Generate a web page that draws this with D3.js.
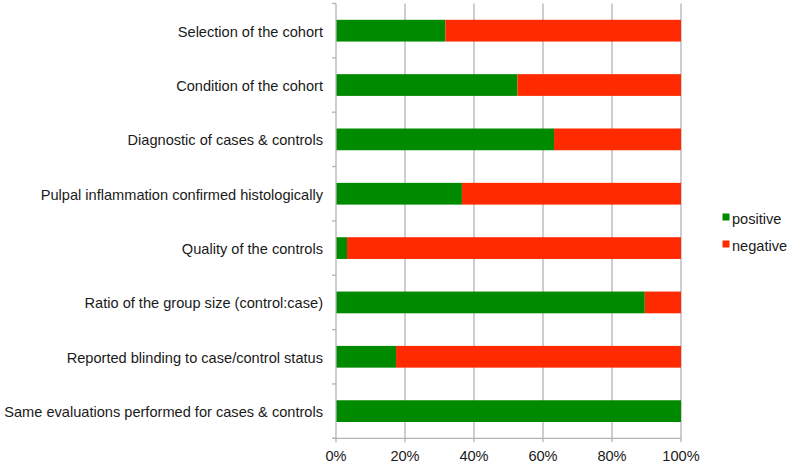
<!DOCTYPE html>
<html><head><meta charset="utf-8">
<script src="https://cdn.jsdelivr.net/npm/d3@7"></script>
<style>body{margin:0;background:#fff}svg{display:block}text{font-family:"Liberation Sans",Arial,sans-serif}</style>
</head><body><svg id="c" width="791" height="466"></svg>
<script>
const categories = [
  "Selection of the cohort",
  "Condition of the cohort",
  "Diagnostic of cases & controls",
  "Pulpal inflammation confirmed histologically",
  "Quality of the controls",
  "Ratio of the group size (control:case)",
  "Reported blinding to case/control status",
  "Same evaluations performed for cases & controls"
];
const positive = [31.7, 52.6, 63.2, 36.5, 3.2, 89.5, 17.4, 100];
const negative = positive.map(v => 100 - v);
const seriesNames = ["positive", "negative"];
const seriesColors = ["#008a00", "#ff2a00"];
const xTicks = [0, 20, 40, 60, 80, 100];

const svg = d3.select("#c");
const L = 336, R = 681, T = 3.5, B = 438.3;
const FS = 14.6;
const x = d3.scaleLinear().domain([0, 100]).range([L, R]);
const y = d3.scaleBand().domain(categories).range([T, B]).paddingInner(0.6).paddingOuter(0.3);
const yb = d3.scaleBand().domain(categories).range([T, B]);
const gridC = "#b3b3b3";

// gridlines
svg.append("g").selectAll("line").data(xTicks.slice(1)).join("line")
  .attr("x1", d => x(d)).attr("x2", d => x(d)).attr("y1", T).attr("y2", B + 4)
  .attr("stroke", gridC).attr("stroke-width", 1.3);

// stacked bars
const rows = categories.map((c, i) => ({c, p: positive[i], n: negative[i]}));
const stack = d3.stack().keys(["p", "n"])(rows);
svg.append("g").selectAll("g").data(stack).join("g")
  .attr("fill", (d, i) => seriesColors[i])
  .selectAll("rect").data(d => d).join("rect")
  .attr("x", d => x(d[0])).attr("width", d => x(d[1]) - x(d[0]))
  .attr("y", d => y(d.data.c)).attr("height", y.bandwidth());

// left axis
const ax = svg.append("g");
ax.append("line").attr("x1", L).attr("x2", L).attr("y1", T).attr("y2", B).attr("stroke", gridC).attr("stroke-width", 1.3);
const bounds = [T].concat(categories.map(c => yb(c) + yb.bandwidth()));
ax.selectAll("line.t").data(bounds).join("line").attr("class", "t")
  .attr("x1", L - 4).attr("x2", L).attr("y1", d => d).attr("y2", d => d)
  .attr("stroke", gridC).attr("stroke-width", 1.3);
ax.selectAll("text").data(categories).join("text")
  .attr("x", 323).attr("y", d => yb(d) + yb.bandwidth() / 2 + 6)
  .attr("text-anchor", "end").attr("font-size", FS).attr("fill", "#1a1a1a").text(d => d);

// bottom axis
const bx = svg.append("g");
bx.append("line").attr("x1", L - 4).attr("x2", R).attr("y1", B).attr("y2", B).attr("stroke", gridC).attr("stroke-width", 1.3);
bx.append("line").attr("x1", L).attr("x2", L).attr("y1", B).attr("y2", B + 4).attr("stroke", gridC).attr("stroke-width", 1.3);
bx.selectAll("text").data(xTicks).join("text")
  .attr("x", d => x(d)).attr("y", 461).attr("text-anchor", "middle")
  .attr("font-size", FS).attr("fill", "#1a1a1a").text(d => d + "%");

// legend
const lg = svg.append("g");
seriesNames.forEach((s, i) => {
  const yy = 224 + i * 27;
  lg.append("rect").attr("x", 722.5).attr("y", yy - 10.5).attr("width", 7).attr("height", 7).attr("fill", seriesColors[i]);
  lg.append("text").attr("x", 732).attr("y", yy).attr("font-size", FS).attr("fill", "#1a1a1a").text(s);
});
</script></body></html>
